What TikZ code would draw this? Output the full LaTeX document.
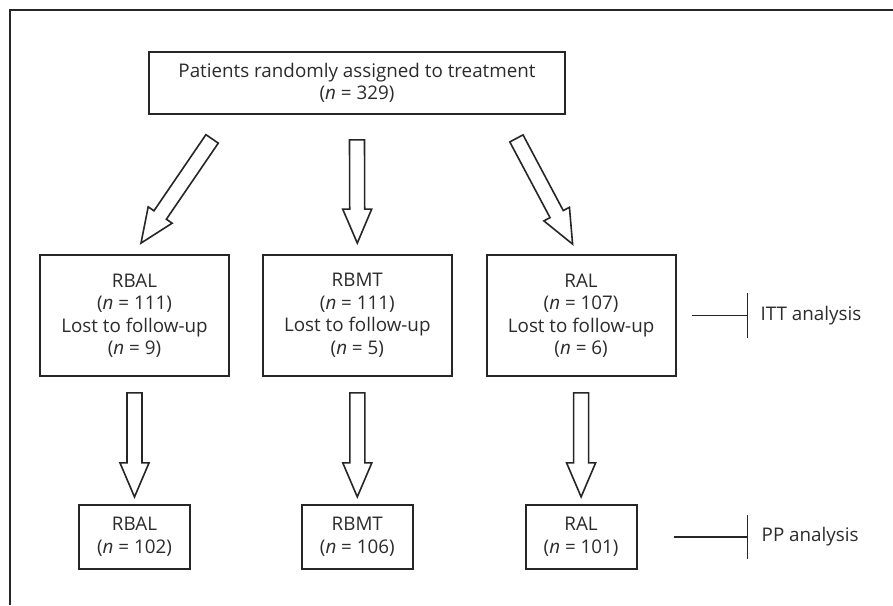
\documentclass[tikz,border=0pt]{standalone}
\usepackage{fontspec}
\setmainfont{Open Sans}
\usetikzlibrary{positioning,calc}
\definecolor{ink}{HTML}{262626}
\definecolor{txt}{HTML}{2B2B2B}

% hollow block arrow from #1 (tail) to #2 (tip)
\newcommand{\fatarrow}[2]{%
  \draw[fat] let \p1=($(#2)-(#1)$), \n1={atan2(\y1,\x1)}, \n2={veclen(\x1,\y1)} in
    [shift={(#1)}, rotate=\n1]
    (0,-7.5) -- (\n2-34,-7.5) -- (\n2-34,-14.5) -- (\n2,0)
    -- (\n2-34,14.5) -- (\n2-34,7.5) -- (0,7.5) -- cycle;}

\begin{document}
\begin{tikzpicture}[x=1pt, y=-1pt,
  box/.style={draw=ink, line width=1.8pt, align=center, inner sep=0pt, text=txt,
              font=\fontsize{18.8}{22.5}\selectfont},
  grp/.style={minimum width=189pt, minimum height=121pt},
  sub/.style={minimum width=111pt, minimum height=64pt},
  fat/.style={draw=ink, line width=1.6pt, line join=miter, fill=white},
  lbl/.style={text=txt, font=\fontsize{18.8}{22.5}\selectfont, inner sep=0pt},
  tick/.style={draw=ink, line width=1.8pt}
]
\useasboundingbox (0,0) rectangle (893,605);
\draw[ink, line width=1.8pt] (893,10) -| (10,605);

\node[box, minimum width=416pt, minimum height=62pt] (rand) at (357,83)
  {Patients randomly assigned to treatment\\(\textit{n} = 329)};

\node[box, grp] (rbal) at (134.5,315.5)
  {RBAL\\(\textit{n} = 111)\\Lost to follow-up\\(\textit{n} = 9)};
\node[box, grp, right=32pt of rbal] (rbmt)
  {RBMT\\(\textit{n} = 111)\\Lost to follow-up\\(\textit{n} = 5)};
\node[box, grp, right=33pt of rbmt] (ral)
  {RAL\\(\textit{n} = 107)\\Lost to follow-up\\(\textit{n} = 6)};

\node[box, sub, below=127pt of rbal] (rbalpp) {RBAL\\(\textit{n} = 102)};
\node[box, sub, below=127pt of rbmt] (rbmtpp) {RBMT\\(\textit{n} = 106)};
\node[box, sub, below=127pt of ral] (ralpp) {RAL\\(\textit{n} = 101)};

% arrows out of the randomisation box
\coordinate (t1) at ([shift={(64,24)}]rand.south west);
\coordinate (h1) at ([shift={(6.5,-11)}]rbal.north);
\coordinate (t2) at ([shift={(0,25)}]rand.south);
\coordinate (h2) at ([shift={(0,-11)}]rbmt.north);
\coordinate (t3) at ([shift={(-49.5,23.5)}]rand.south east);
\coordinate (h3) at ([shift={(-8.5,-10)}]ral.north);
\fatarrow{t1}{h1}
\fatarrow{t2}{h2}
\fatarrow{t3}{h3}

% arrows down to the per-protocol boxes
\foreach \g in {rbal,rbmt,ral}{
  \coordinate (\g t) at ([shift={(0,16)}]\g.south);
  \coordinate (\g h) at ([shift={(0,-7)}]\g pp.north);
  \fatarrow{\g t}{\g h}
}

\node[lbl, anchor=west, right=84pt of ral] (itt) {ITT analysis};
\node[lbl, anchor=west, right=124pt of ralpp] (pp) {PP analysis};

\draw[tick] ([shift={(15,0)}]ral.east) -- ([shift={(-13,0)}]itt.west);
\draw[tick] ([shift={(-13,-22.5)}]itt.west) -- ([shift={(-13,22.5)}]itt.west);
\draw[tick] ([shift={(36,0)}]ralpp.east) -- ([shift={(-14,0)}]pp.west);
\draw[tick] ([shift={(-14,-22)}]pp.west) -- ([shift={(-14,22)}]pp.west);

\end{tikzpicture}
\end{document}
